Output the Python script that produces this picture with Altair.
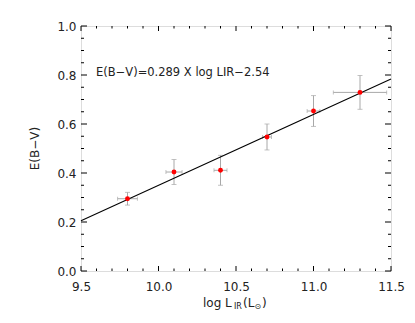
import altair as alt
import pandas as pd

# data
log_lir = [9.8, 10.1, 10.4, 10.7, 11.0, 11.3]
ebv = [0.295, 0.404, 0.411, 0.547, 0.653, 0.729]
x_err = [0.064, 0.052, 0.042, 0.029, 0.041, 0.172]
y_err = [0.026, 0.051, 0.061, 0.053, 0.063, 0.069]

slope = 0.289
intercept = -2.54
fit_x = [9.5, 11.5]
fit_y = [slope * v + intercept for v in fit_x]

x_major = [9.5, 10.0, 10.5, 11.0, 11.5]
x_minor = [9.6, 9.7, 9.8, 9.9, 10.1, 10.2, 10.3, 10.4, 10.6, 10.7, 10.8, 10.9,
           11.1, 11.2, 11.3, 11.4]
y_major = [0.0, 0.2, 0.4, 0.6, 0.8, 1.0]
y_minor = [0.05, 0.1, 0.15, 0.25, 0.3, 0.35, 0.45, 0.5, 0.55, 0.65, 0.7, 0.75,
           0.85, 0.9, 0.95]

W, H = 310, 245
FONT = "DejaVu Sans"

pts = pd.DataFrame({"x": log_lir, "y": ebv,
                    "xlo": [a - b for a, b in zip(log_lir, x_err)],
                    "xhi": [a + b for a, b in zip(log_lir, x_err)],
                    "ylo": [a - b for a, b in zip(ebv, y_err)],
                    "yhi": [a + b for a, b in zip(ebv, y_err)]})
fit = pd.DataFrame({"x": fit_x, "y": fit_y})

xs = alt.Scale(domain=[9.5, 11.5], nice=False, zero=False)
ys = alt.Scale(domain=[0.0, 1.0], nice=False, zero=False)
xaxis = alt.Axis(values=x_major, format=".1f", ticks=False, domain=False, grid=False,
                 labelFont=FONT, labelFontSize=12, labelColor="#222222",
                 labelPadding=10, labelFlush=False, labelOverlap=False)
yaxis = alt.Axis(values=y_major, format=".1f", ticks=False, domain=False, grid=False,
                 labelFont=FONT, labelFontSize=12, labelColor="#222222",
                 labelPadding=5, labelFlush=False, labelOverlap=False)


def X(f):
    return alt.X(f, type="quantitative", scale=xs, axis=xaxis, title=None)


def Y(f):
    return alt.Y(f, type="quantitative", scale=ys, axis=yaxis, title=None)


GRAY = "#a8a8a8"

xbar = alt.Chart(pts).mark_rule(color=GRAY, strokeWidth=1).encode(
    x=X("xlo"), x2="xhi", y=Y("y"))
ybar = alt.Chart(pts).mark_rule(color=GRAY, strokeWidth=1).encode(
    x=X("x"), y=Y("ylo"), y2="yhi")
ycap_lo = alt.Chart(pts).mark_tick(color=GRAY, orient="horizontal", size=5, thickness=1).encode(
    x=X("x"), y=Y("ylo"))
ycap_hi = alt.Chart(pts).mark_tick(color=GRAY, orient="horizontal", size=5, thickness=1).encode(
    x=X("x"), y=Y("yhi"))
xcap_lo = alt.Chart(pts).mark_tick(color=GRAY, orient="vertical", size=4, thickness=1).encode(
    x=X("xlo"), y=Y("y"))
xcap_hi = alt.Chart(pts).mark_tick(color=GRAY, orient="vertical", size=4, thickness=1).encode(
    x=X("xhi"), y=Y("y"))

line = alt.Chart(fit).mark_line(color="black", strokeWidth=1.1).encode(x=X("x"), y=Y("y"))
points = alt.Chart(pts).mark_circle(color="#ff0000", opacity=1, size=24).encode(
    x=X("x"), y=Y("y"))


def xticks(vals, length):
    d = pd.DataFrame({"v": vals})
    bot = alt.Chart(d).mark_rule(color="black", strokeWidth=1).encode(
        x=X("v"), y=alt.value(H), y2=alt.value(H - length))
    top = alt.Chart(d).mark_rule(color="black", strokeWidth=1).encode(
        x=X("v"), y=alt.value(0), y2=alt.value(length))
    return [bot, top]


def yticks(vals, length):
    d = pd.DataFrame({"v": vals})
    left = alt.Chart(d).mark_rule(color="black", strokeWidth=1).encode(
        y=Y("v"), x=alt.value(0), x2=alt.value(length))
    right = alt.Chart(d).mark_rule(color="black", strokeWidth=1).encode(
        y=Y("v"), x=alt.value(W), x2=alt.value(W - length))
    return [left, right]


one = pd.DataFrame({"a": [0]})


def label(text, x, y, size=12, angle=0, align="left"):
    return alt.Chart(one).mark_text(
        text=text, font=FONT, fontSize=size, color="#222222", align=align,
        baseline="alphabetic", angle=angle).encode(x=alt.value(x), y=alt.value(y))


annot = label("E(B\u2212V)=0.289 X log LIR\u22122.54", 15, 49.5, size=11.5)
ytitle = label("E(B\u2212V)", -42, H / 2, size=12, angle=270, align="center")
xt = [
    label("log L", 122, 281, size=12),
    label("IR", 153, 283, size=8),
    label("(L", 162, 281, size=12),
    label("\u2299", 173.5, 283, size=8),
    label(")", 181, 281, size=12),
]

layers = [xbar, ybar, ycap_lo, ycap_hi, xcap_lo, xcap_hi, line, points]
layers += xticks(x_major, 5) + xticks(x_minor, 2.5)
layers += yticks(y_major, 6) + yticks(y_minor, 3)
layers += [annot, ytitle] + xt

chart = alt.layer(*layers).properties(
    width=W, height=H,
    autosize=alt.AutoSizeParams(type="none"),
    padding={"left": 73, "top": 18, "right": 16, "bottom": 40},
).configure_view(stroke="black", strokeWidth=1).configure(background="white")

chart.save("out.html", embed_options={"renderer": "svg", "actions": False})
